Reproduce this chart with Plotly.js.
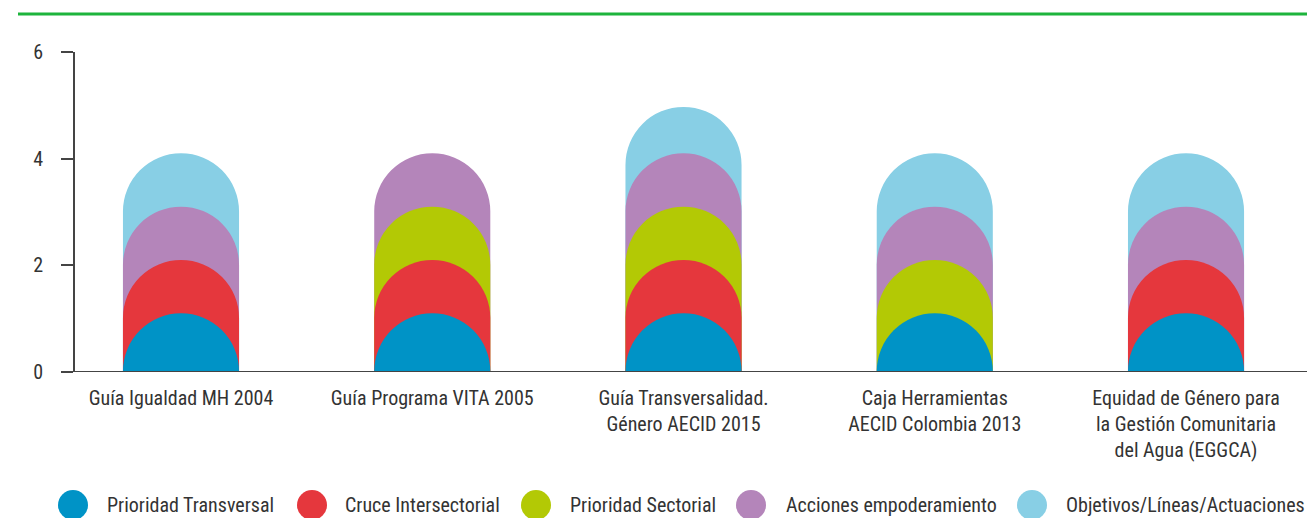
<!DOCTYPE html>
<html>
<head>
<meta charset="utf-8">
<script src="https://cdn.plot.ly/plotly-3.0.1.min.js"></script>
<style>html,body{margin:0;padding:0;background:#fff;}#chart{width:1307px;height:518px;}</style>
</head>
<body>
<div id="chart"></div>
<script>
// Categories (x tick labels)
const categories = [
  "Guía Igualdad MH 2004",
  "Guía Programa VITA 2005",
  "Guía Transversalidad.<br>Género AECID 2015",
  "Caja Herramientas<br>AECID Colombia 2013",
  "Equidad de Género para<br>la Gestión Comunitaria<br>del Agua (EGGCA)"
];
// Series names
const seriesNames = ["Prioridad Transversal", "Cruce Intersectorial", "Prioridad Sectorial", "Acciones empoderamiento", "Objetivos/Líneas/Actuaciones"];
// Heights of each stacked rounded segment (top of segment; null = absent)
const prioridadTransversal = [1.1, 1.1, 1.1, 1.1, 1.1];
const cruceIntersectorial  = [2.1, 2.1, 2.1, null, 2.1];
const prioridadSectorial   = [null, 3.1, 3.1, 2.1, null];
const accionesEmpoderamiento = [3.1, 4.1, 4.1, 3.1, 3.1];
const objetivosLineas      = [4.1, null, 4.97, 4.1, 4.1];
// y-axis ticks
const yTicks = [0, 2, 4, 6];

const colors = ["#0093C6", "#E5373D", "#B3C905", "#B485BA", "#88CFE5"];
const seriesValues = [prioridadTransversal, cruceIntersectorial, prioridadSectorial, accionesEmpoderamiento, objetivosLineas];

const FONT = '"Roboto Condensed", "Liberation Sans Narrow", Roboto, sans-serif';
const xIdx = categories.map((c, i) => i);
const XR = [-0.4219, 4.4815];

// plot area geometry (pixels)
const L = 75, T = 52, W = 1232, H = 320;
const px = x => (x - L) / W;
const py = y => (T + H - y) / H;

const layout = {
  width: 1307, height: 518,
  margin: {l: L, r: 1307 - L - W, t: T, b: 518 - T - H, pad: 0},
  paper_bgcolor: "#fff", plot_bgcolor: "#fff",
  barmode: "overlay",
  showlegend: false,
  font: {family: FONT, size: 20, color: "#333"},
  xaxis: {
    range: XR, tickmode: "array", tickvals: xIdx, ticktext: categories,
    showgrid: false, zeroline: false, showline: false, ticks: "", ticklabelstandoff: 12,
    tickfont: {family: FONT, size: 20, color: "#333"}, fixedrange: true
  },
  yaxis: {
    range: [0, 6], tickvals: yTicks, ticktext: yTicks.map(String),
    showgrid: false, zeroline: false, showline: true, linecolor: "#444", linewidth: 2,
    ticks: "outside", ticklen: 12, tickwidth: 2, tickcolor: "#444", ticklabelstandoff: 14,
    tickfont: {family: FONT, size: 20, color: "#333"}, fixedrange: true
  }
};

// Each series on its own overlaid x axis so every segment gets its own rounded top.
// Tallest first (bottom layer), shortest last (top layer).
const traces = [];
const order = [4, 3, 2, 1, 0];
order.forEach((s, k) => {
  const axName = k === 0 ? "x" : "x" + (k + 1);
  if (k > 0) {
    layout["xaxis" + (k + 1)] = {range: XR, overlaying: "x", visible: false, showgrid: false, zeroline: false, fixedrange: true};
  }
  traces.push({
    type: "bar",
    x: xIdx,
    y: seriesValues[s],
    xaxis: axName,
    yaxis: "y",
    name: seriesNames[s],
    width: 0.462,
    marker: {color: colors[s], cornerradius: "50%", line: {width: 0}},
    showlegend: false,
    hoverinfo: "name+y"
  });
});

const shapes = [
  // green top rule
  {type: "line", xref: "paper", yref: "paper", x0: px(18), x1: px(1307), y0: py(14), y1: py(14),
   line: {color: "#1DB43C", width: 3}},
  // baseline
  {type: "line", xref: "paper", yref: "y", x0: px(63), x1: px(1307), y0: 0, y1: 0,
   line: {color: "#444", width: 2}}
];
const annotations = [];
const legendCircleX = [73, 312, 536, 751, 1032];
const legendTextX = [105, 343, 568, 784, 1064];
seriesNames.forEach((n, i) => {
  shapes.push({type: "circle", xref: "paper", yref: "paper", xsizemode: "pixel", ysizemode: "pixel",
    xanchor: px(legendCircleX[i]), yanchor: py(505), x0: -15, x1: 15, y0: -15, y1: 15,
    fillcolor: colors[i], line: {width: 0}});
  annotations.push({xref: "paper", yref: "paper", x: px(legendTextX[i]), y: py(505), xanchor: "left", yanchor: "middle",
    text: n, showarrow: false, font: {family: FONT, size: 20, color: "#333"}});
});
layout.shapes = shapes;
layout.annotations = annotations;

Plotly.newPlot("chart", traces, layout, {displayModeBar: false, staticPlot: true});
</script>
</body>
</html>
